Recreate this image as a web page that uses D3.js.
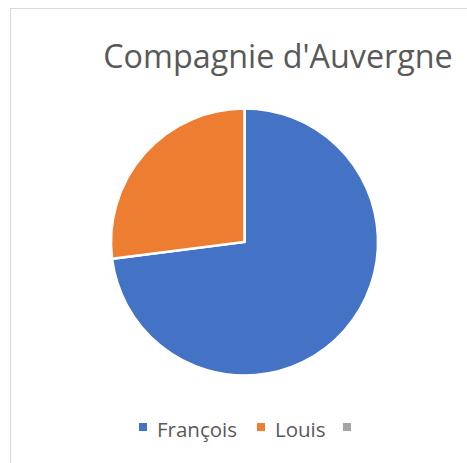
<!DOCTYPE html>
<html lang="fr">
<head>
    <meta charset="UTF-8">
    <title>Compagnie d'Auvergne</title>
    <script src="https://d3js.org/d3.v7.min.js"></script>
    <style>
        body { margin: 0; background: #fff; }
        svg { display: block; font-family: "Open Sans", "Noto Sans", sans-serif; }
    </style>
</head>
<body>
    <script>
        const title = "Compagnie d'Auvergne";
        const categories = ["François", "Louis", ""];
        const values = [73, 27, 0];
        const colors = ["#4472c4", "#ed7d31", "#a5a5a5"];

        const W = 467, H = 463;
        const svg = d3.select("body").append("svg")
            .attr("width", W)
            .attr("height", H);

        // chart area border (runs off the right and bottom edges)
        svg.append("rect")
            .attr("x", 10.5).attr("y", 8.5)
            .attr("width", 470).attr("height", 470)
            .attr("fill", "#fff")
            .attr("stroke", "#d9d9d9");

        svg.append("text")
            .attr("x", 278).attr("y", 68)
            .attr("text-anchor", "middle")
            .attr("fill", "#595959")
            .style("font-size", "32.3px")
            .text(title);

        const data = categories.map((c, i) => ({ name: c, value: values[i], color: colors[i] }));

        const pie = d3.pie().sort(null).value(d => d.value);
        const arc = d3.arc().innerRadius(0).outerRadius(133.5);

        const g = svg.append("g").attr("transform", "translate(244.5,242)");
        g.selectAll("path")
            .data(pie(data).filter(d => d.data.value > 0))
            .enter()
            .append("path")
            .attr("d", arc)
            .attr("fill", d => d.data.color)
            .attr("stroke", "#fff")
            .attr("stroke-width", 2.5)
            .attr("stroke-linejoin", "miter");

        // legend
        const legendX = [139, 257, 343];
        const leg = svg.append("g");
        const item = leg.selectAll("g")
            .data(data)
            .enter()
            .append("g")
            .attr("transform", (d, i) => `translate(${legendX[i]},423)`);
        item.append("rect")
            .attr("width", 8).attr("height", 8)
            .attr("fill", d => d.color);
        item.append("text")
            .attr("x", 18).attr("y", 13.5)
            .attr("fill", "#595959")
            .style("font-size", "20.5px")
            .text(d => d.name);
    </script>
</body>
</html>
